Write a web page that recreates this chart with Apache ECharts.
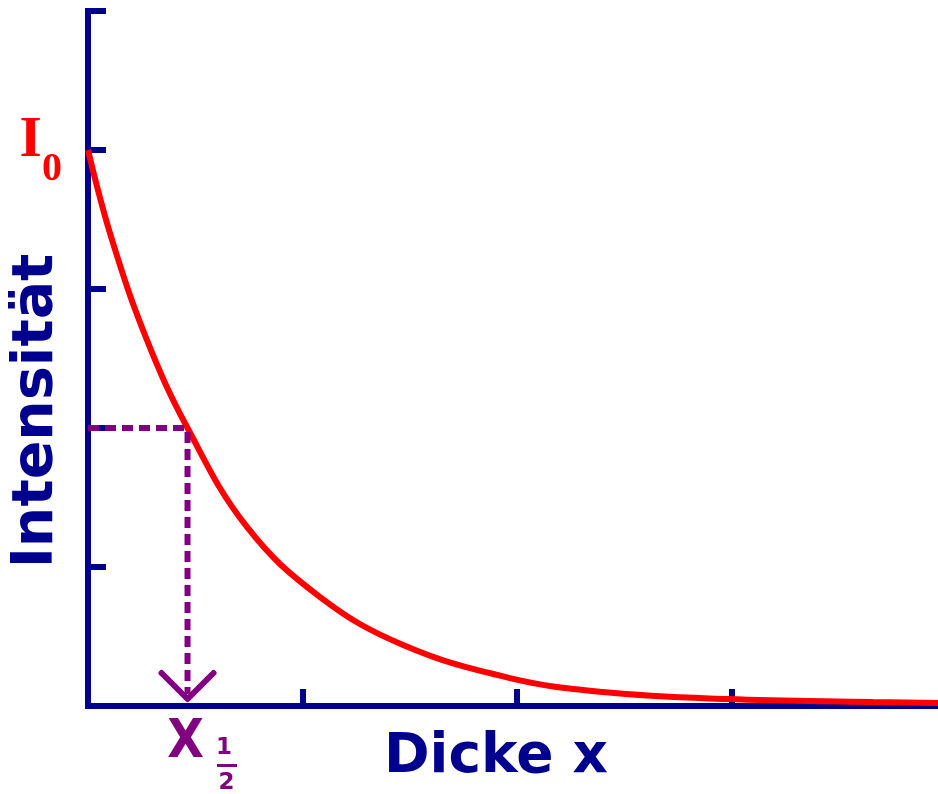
<!DOCTYPE html>
<html>
<head>
<meta charset="utf-8">
<script src="https://cdn.jsdelivr.net/npm/echarts@6/dist/echarts.min.js"></script>
<style>
  html, body { margin: 0; padding: 0; background: #ffffff; }
  #chart { width: 938px; height: 794px; }
</style>
</head>
<body>
<div id="chart"></div>
<script>
// Absorption curve: intensity falling with material thickness
const thickness = [0, 0.112, 0.275, 0.464, 0.741, 1.082, 1.469, 1.967, 2.401, 2.979, 3.660, 3.963, 4.0];
const intensity = [4.0, 3.353, 2.633, 2.0, 1.288, 0.784, 0.439, 0.201, 0.101, 0.050, 0.029, 0.022, 0.021];

// Half-value thickness and the intensity reached there
const halfThickness = 0.464;
const halfIntensity = 2.0;

// Axis ranges (no tick labels are drawn)
const xRange = [0, 4];
const yRange = [0, 5];

const NAVY = '#00008f';
const RED = '#ff0000';
const PURPLE = '#800080';

const curve = thickness.map((x, i) => [x, intensity[i]]);

const chart = echarts.init(document.getElementById('chart'), null, { renderer: 'canvas' });

chart.setOption({
  animation: false,
  backgroundColor: '#ffffff',
  grid: { left: 88, width: 858, top: 11, height: 695, containLabel: false, outerBoundsMode: 'none' },
  xAxis: {
    type: 'value',
    min: xRange[0], max: xRange[1], interval: 1,
    axisLine: { show: true, onZero: false, lineStyle: { color: NAVY, width: 6, cap: 'square' } },
    axisTick: { show: true, inside: true, length: 17, lineStyle: { color: NAVY, width: 6 } },
    axisLabel: { show: false },
    splitLine: { show: false }
  },
  yAxis: {
    type: 'value',
    min: yRange[0], max: yRange[1], interval: 1,
    axisLine: { show: true, onZero: false, lineStyle: { color: NAVY, width: 6, cap: 'square' } },
    axisTick: { show: true, inside: true, length: 18, lineStyle: { color: NAVY, width: 6 } },
    axisLabel: { show: false },
    splitLine: { show: false }
  },
  series: [
    {
      type: 'line',
      data: curve,
      showSymbol: false,
      smooth: 0.4,
      lineStyle: { color: RED, width: 6 },
      z: 3
    },
    {
      // dashed guide lines from the curve to both axes, with an arrow head
      type: 'custom',
      data: [[halfThickness, halfIntensity]],
      z: 4,
      renderItem: function (params, api) {
        const p = api.coord([api.value(0), api.value(1)]);
        const left = api.coord([xRange[0], api.value(1)]);
        const base = api.coord([api.value(0), yRange[0]]);
        const dashed = { stroke: PURPLE, lineWidth: 6, lineDash: [11, 6], fill: null };
        return {
          type: 'group',
          children: [
            { type: 'polyline', shape: { points: [[left[0], p[1]], [p[0], p[1]]] }, style: dashed },
            { type: 'polyline', shape: { points: [[p[0], p[1] + 4], [base[0], base[1] - 12]] }, style: dashed },
            {
              type: 'polyline',
              shape: { points: [[base[0] - 26, base[1] - 33], [base[0], base[1] - 7], [base[0] + 26, base[1] - 33]] },
              style: { stroke: PURPLE, lineWidth: 6, lineCap: 'round', lineJoin: 'round', fill: null }
            }
          ]
        };
      }
    }
  ],
  graphic: [
    {
      type: 'text', x: 30.5, y: 141,
      style: { text: 'I', font: 'bold 57px "Liberation Serif"', fill: RED, align: 'center', verticalAlign: 'middle' }
    },
    {
      type: 'text', x: 52, y: 170,
      style: { text: '0', font: 'bold 40px "Liberation Serif"', fill: RED, align: 'center', verticalAlign: 'middle' }
    },
    {
      type: 'text', x: 37, y: 411, rotation: Math.PI / 2,
      style: { text: 'Intensität', font: 'bold 57px "DejaVu Sans"', fill: NAVY, align: 'center', verticalAlign: 'middle' }
    },
    {
      type: 'text', x: 496, y: 758,
      style: { text: 'Dicke x', font: 'bold 55px "DejaVu Sans"', fill: NAVY, align: 'center', verticalAlign: 'middle' }
    },
    {
      type: 'text', x: 185.5, y: 743, scaleX: 0.88,
      style: { text: 'X', font: 'bold 54px "DejaVu Sans"', fill: PURPLE, align: 'center', verticalAlign: 'middle' }
    },
    {
      type: 'text', x: 224, y: 748,
      style: { text: '1', font: 'bold 23px "DejaVu Sans"', fill: PURPLE, align: 'center', verticalAlign: 'middle' }
    },
    {
      type: 'rect', shape: { x: 217, y: 764, width: 20, height: 3 },
      style: { fill: PURPLE }
    },
    {
      type: 'text', x: 226.5, y: 783,
      style: { text: '2', font: 'bold 23px "DejaVu Sans"', fill: PURPLE, align: 'center', verticalAlign: 'middle' }
    }
  ]
});
</script>
</body>
</html>
